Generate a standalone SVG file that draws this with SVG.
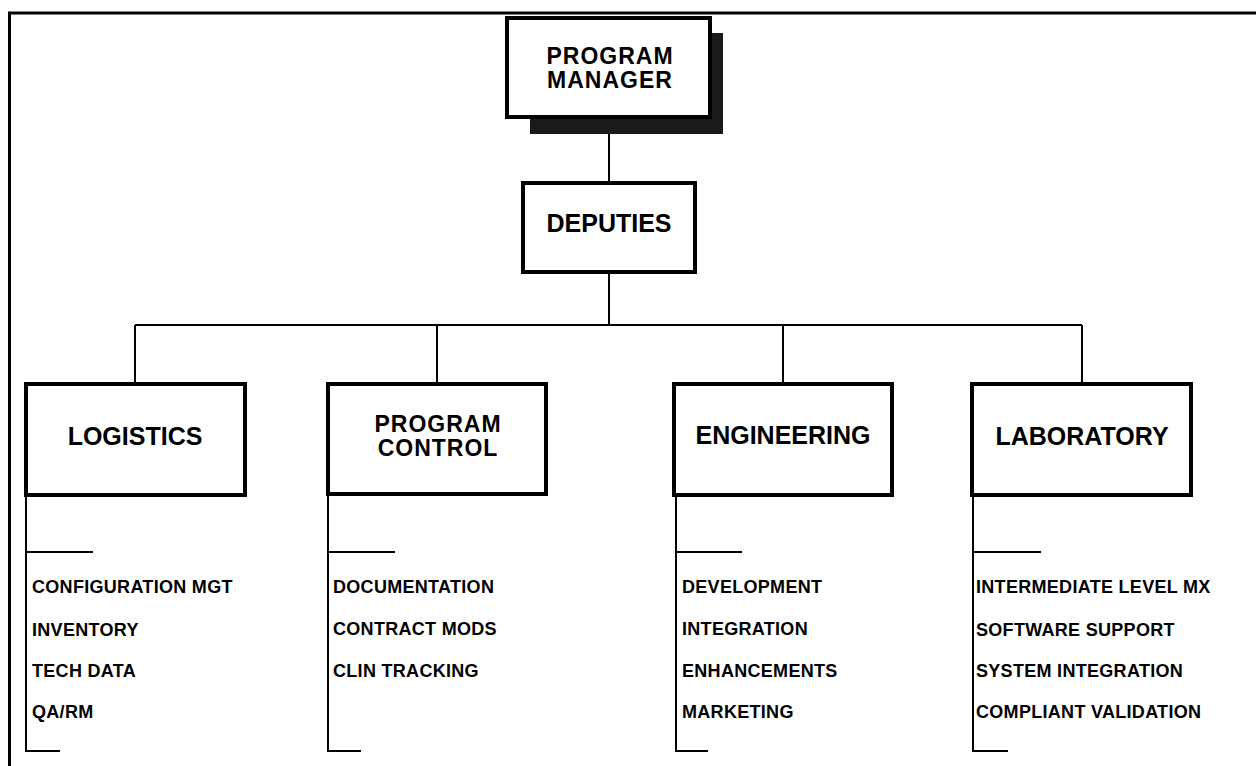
<svg xmlns="http://www.w3.org/2000/svg" width="1256" height="766" viewBox="0 0 1256 766">
<style>
.box{fill:#fff;stroke:#000;stroke-width:4}
.ln{stroke:#000;stroke-width:2;fill:none}
.t{font-family:"Liberation Sans",Arial,sans-serif;font-weight:bold;fill:#000}
.big{font-size:25px;text-anchor:middle}
.two{font-size:23px;text-anchor:middle;letter-spacing:1px}
.item{font-size:18px;letter-spacing:0.3px}
</style>
<rect width="1256" height="766" fill="#fff"/>
<path d="M9.5 766 V13 H1256" fill="none" stroke="#000" stroke-width="3"/>
<g id="connectors">
<line class="ln" x1="609" y1="117" x2="609" y2="183"/>
<line class="ln" x1="609" y1="272" x2="609" y2="325"/>
<line class="ln" x1="135" y1="325" x2="1082" y2="325"/>
<line class="ln" x1="135" y1="325" x2="135" y2="384"/>
<line class="ln" x1="437" y1="325" x2="437" y2="384"/>
<line class="ln" x1="783" y1="325" x2="783" y2="384"/>
<line class="ln" x1="1082" y1="325" x2="1082" y2="384"/>
<path class="ln" d="M26 495 V751 H60 M26 552 H93"/>
<path class="ln" d="M328 494 V751 H361 M328 552 H395"/>
<path class="ln" d="M676 495 V751 H708 M676 552 H742"/>
<path class="ln" d="M973 495 V751 H1008 M973 552 H1041"/>
</g>
<g id="program-manager">
<polygon points="712,33 723,33 723,134 530,134 530,118 712,118" fill="#1a1a1a"/>
<rect class="box" x="507" y="18" width="203" height="99"/>
<text class="t two" x="610" y="64">PROGRAM</text>
<text class="t two" x="610" y="88">MANAGER</text>
</g>
<g id="deputies">
<rect class="box" x="523" y="183" width="172" height="89"/>
<text class="t big" x="609" y="232">DEPUTIES</text>
</g>
<g id="logistics">
<rect class="box" x="26" y="384" width="219" height="111"/>
<text class="t big" x="135" y="445">LOGISTICS</text>
<text class="t item" x="32" y="593">CONFIGURATION MGT</text>
<text class="t item" x="32" y="636">INVENTORY</text>
<text class="t item" x="32" y="677">TECH DATA</text>
<text class="t item" x="32" y="718">QA/RM</text>
</g>
<g id="program-control">
<rect class="box" x="328" y="384" width="218" height="110"/>
<text class="t two" x="438" y="432">PROGRAM</text>
<text class="t two" x="438" y="456">CONTROL</text>
<text class="t item" x="333" y="593">DOCUMENTATION</text>
<text class="t item" x="333" y="635">CONTRACT MODS</text>
<text class="t item" x="333" y="677">CLIN TRACKING</text>
</g>
<g id="engineering">
<rect class="box" x="674" y="384" width="218" height="111"/>
<text class="t big" x="783" y="444">ENGINEERING</text>
<text class="t item" x="682" y="593">DEVELOPMENT</text>
<text class="t item" x="682" y="635">INTEGRATION</text>
<text class="t item" x="682" y="677">ENHANCEMENTS</text>
<text class="t item" x="682" y="718">MARKETING</text>
</g>
<g id="laboratory">
<rect class="box" x="972" y="384" width="219" height="111"/>
<text class="t big" x="1082" y="445">LABORATORY</text>
<text class="t item" x="976" y="593">INTERMEDIATE LEVEL MX</text>
<text class="t item" x="976" y="636">SOFTWARE SUPPORT</text>
<text class="t item" x="976" y="677">SYSTEM INTEGRATION</text>
<text class="t item" x="976" y="718">COMPLIANT VALIDATION</text>
</g>
</svg>
